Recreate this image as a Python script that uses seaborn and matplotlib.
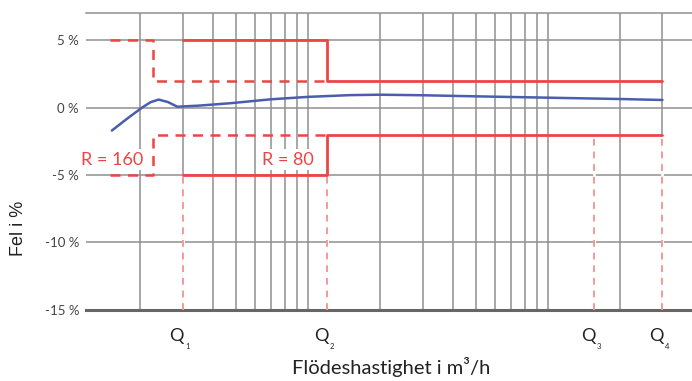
import matplotlib
matplotlib.use("Agg")
import matplotlib.pyplot as plt
import seaborn as sns
import numpy as np
import pandas as pd

# ---- data ----
flow = [1.52, 1.75, 2.03, 2.2, 2.38, 2.6, 2.85, 3.5, 4.75, 7, 10, 15, 20, 30, 50, 100, 200, 300]
error = [-1.70, -0.85, 0.0, 0.40, 0.60, 0.42, 0.07, 0.15, 0.33, 0.62, 0.80, 0.93, 0.96, 0.92, 0.84, 0.74, 0.64, 0.57]

r80_x = [3, 12, 12, 300]
r80_upper = [5, 5, 2, 2]
r80_lower = [-5, -5, -2, -2]

r160_x = [1.49, 2.26, 2.26, 12]
r160_upper = [5, 5, 2, 2]
r160_lower = [-5, -5, -2, -2]

q_values = [3, 12, 156, 300]
q_subs = ["1", "2", "3", "4"]
q_dash_top = [-5, -5, -2, -2]

y_ticks = [5, 0, -5, -10, -15]
y_labels = ["5 %", "0 %", "-5 %", "-10 %", "-15 %"]

labels = ["R = 160", "R = 80"]
label_x = [1.53, 8.2]
label_y = [-3.85, -3.85]

# ---- style ----
sns.set_theme(style="white")
plt.rcParams["font.family"] = ["Lato", "DejaVu Sans"]

RED = "#ee4444"
PINK = "#f29a9a"
BLUE = "#4a5eae"
GRID = "#909090"

fig = plt.figure(figsize=(6.92, 3.81), dpi=100)
ax = fig.add_axes([0.1243, 0.187, 0.88, 0.778])

ax.set_xscale("log")
ax.set_xlim(1.186, 410)
ax.set_ylim(-15, 7)

# grid
ax.set_xticks([10, 100])
ax.set_xticks([2, 3, 4, 5, 6, 7, 8, 9, 20, 30, 40, 50, 60, 70, 80, 90, 200, 300], minor=True)
ax.grid(True, which="both", axis="x", color=GRID, linewidth=1.1)
ax.set_yticks(y_ticks)
ax.set_yticklabels(y_labels)
ax.grid(True, which="major", axis="y", color=GRID, linewidth=1.1)
ax.tick_params(axis="x", which="both", length=0, labelbottom=False)
ax.tick_params(axis="y", length=0, labelsize=9.5, labelcolor="#444444", pad=5)
for s in ["left", "right"]:
    ax.spines[s].set_visible(False)
ax.spines["top"].set_color(GRID)
ax.spines["top"].set_linewidth(1.1)
ax.spines["bottom"].set_color("#666666")
ax.spines["bottom"].set_linewidth(2.2)

# Q dashed verticals (white underlay hides grid line)
for q, top in zip(q_values, q_dash_top):
    ax.vlines(q, -14.8, top, colors="white", linewidth=2.0, zorder=2.5)
    ax.vlines(q, -15, top, colors=PINK, linestyles=(0, (3.5, 3)), linewidth=1.4, zorder=3)

# R=160 dashed limits
df160 = pd.DataFrame({"x": r160_x, "up": r160_upper, "lo": r160_lower})
sns.lineplot(data=df160, x="x", y="up", sort=False, estimator=None, ax=ax,
             color=RED, linewidth=1.8, linestyle=(0, (4, 3)), zorder=4)
sns.lineplot(data=df160, x="x", y="lo", sort=False, estimator=None, ax=ax,
             color=RED, linewidth=1.8, linestyle=(0, (4, 3)), zorder=4)

# R=80 solid limits
df80 = pd.DataFrame({"x": r80_x, "up": r80_upper, "lo": r80_lower})
sns.lineplot(data=df80, x="x", y="up", sort=False, estimator=None, ax=ax,
             color=RED, linewidth=2.0, zorder=5)
sns.lineplot(data=df80, x="x", y="lo", sort=False, estimator=None, ax=ax,
             color=RED, linewidth=2.0, zorder=5)

# error curve
dfc = pd.DataFrame({"flow": flow, "err": error})
sns.lineplot(data=dfc, x="flow", y="err", sort=False, estimator=None, ax=ax,
             color=BLUE, linewidth=1.8, zorder=6)

# R labels
for t, x, y in zip(labels, label_x, label_y):
    ax.text(x, y, t, color=RED, fontsize=13, ha="center", va="center", zorder=7,
            bbox=dict(facecolor="white", edgecolor="none", pad=1.5))

# Q labels
for q, s in zip(q_values, q_subs):
    ax.annotate("Q", xy=(q, -15), xytext=(1, -13), textcoords="offset points",
                ha="right", va="top", fontsize=13, color="#222222",
                annotation_clip=False)
    ax.annotate(s, xy=(q, -15), xytext=(2, -24), textcoords="offset points",
                ha="left", va="top", fontsize=5.5, color="#222222", annotation_clip=False)

ax.set_xlabel("")
ax.set_ylabel("")
fig.text(0.565, 0.037, "Flödeshastighet i m³/h", ha="center", va="center",
         fontsize=14.5, color="#222222")
fig.text(0.027, 0.40, "Fel i %", ha="center", va="center", rotation=90,
         fontsize=13, color="#222222", family=["Liberation Sans", "DejaVu Sans"])

fig.savefig("out.png", dpi=100)
